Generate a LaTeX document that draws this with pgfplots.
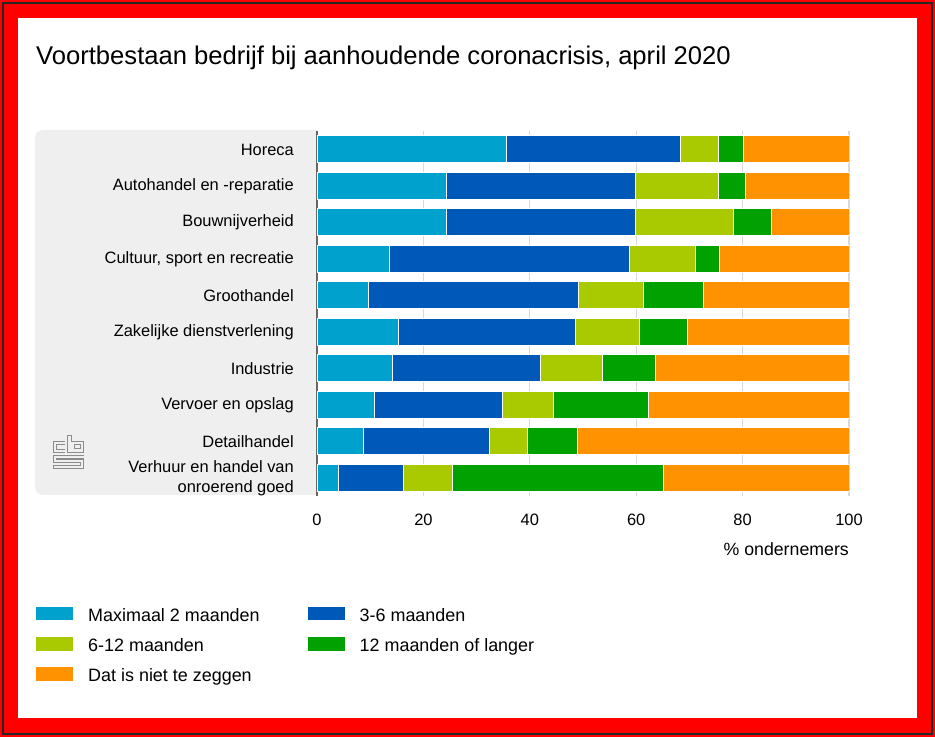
\documentclass[border=0pt]{standalone}
\usepackage{fontspec}
\setmainfont{Liberation Sans}
\setsansfont{Liberation Sans}
\usepackage{pgfplots}
\pgfplotsset{compat=1.18}

\definecolor{kort}{RGB}{0,161,205}
\definecolor{drieZes}{RGB}{0,88,184}
\definecolor{zesTwaalf}{RGB}{170,202,0}
\definecolor{lang}{RGB}{0,161,0}
\definecolor{onbekend}{RGB}{255,146,0}
\definecolor{paneel}{RGB}{239,239,239}

\begin{document}
\begin{tikzpicture}[x=1bp,y=1bp]
% frame
\fill[red] (0,0) rectangle (935,737);
\draw[black!85, line width=2bp] (3,3) rectangle (932,734);
\fill[white] (18,19) rectangle (917,719);
% grey panel behind the category names
\fill[paneel, rounded corners=8bp] (35,242) rectangle (330,607);
\fill[white] (317,230) rectangle (340,620);
\node[anchor=base west, inner sep=0pt, font=\fontsize{25.7}{30}\selectfont] at (36,672)
  {Voortbestaan bedrijf bij aanhoudende coronacrisis, april 2020};
% cbs logo
\begin{scope}[shift={(0,737)}, yscale=-1, draw=black!45, line width=0.9bp]
  \draw (65,441)--(53,441)--(53,452)--(65,452);
  \draw (65,444)--(56,444)--(56,449)--(65,449);
  \draw (67,435)--(67,452)--(83.5,452)--(83.5,441)--(71,441)--(71,435)--cycle;
  \draw (74.5,444.5) rectangle (80,448.5);
  \draw (83.5,455)--(53,455)--(53,462)--(80,462)--(80,465)--(53,465)--(53,468)--(83.5,468)--(83.5,459)--(56,459)--(56,458)--(83.5,458);
\end{scope}

\begin{axis}[
  at={(317bp,240.75bp)}, anchor=south west,
  scale only axis, width=532bp, height=365bp,
  xbar stacked, bar width=27bp,
  xmin=0, xmax=100, ymin=-0.5, ymax=9.5,
  y dir=reverse,
  xtick={0,20,...,100}, ytick={0,...,9},
  yticklabels={Horeca, Autohandel en -reparatie, Bouwnijverheid,
    {Cultuur, sport en recreatie}, Groothandel, Zakelijke dienstverlening,
    Industrie, Vervoer en opslag, Detailhandel,
    {Verhuur en handel van\\onroerend goed}},
  separate axis lines,
  axis x line*=bottom, axis y line*=left,
  x axis line style={draw=none},
  y axis line style={draw=black!60, line width=2.5bp, -},
  major tick length=0pt,
  xmajorgrids, grid style={black!15, line width=1.2bp},
  /pgf/number format/assume math mode=true,
  tick label style={font=\fontsize{16.5}{20.5}\selectfont},
  yticklabel style={anchor=east, align=right, inner sep=0pt, xshift=-23bp},
  xticklabel style={anchor=north, inner sep=0pt, yshift=-18bp},
  xlabel={\% ondernemers},
  xlabel style={at={(rel axis cs:1,0)}, anchor=base east, inner sep=0pt,
    yshift=-58.75bp, font=\fontsize{17.8}{21}\selectfont},
  every axis plot/.append style={draw=white, line width=1bp},
  legend columns=2,
  legend cell align=left,
  legend image code/.code={\fill[#1] (0bp,-4.5bp) rectangle (38bp,10bp);},
  legend style={at={(axis description cs:-0.530,-0.300)}, anchor=north west,
    draw=none, fill=none, inner sep=0pt, row sep=11.5bp,
    font=\fontsize{18}{21}\selectfont,
    nodes={inner sep=0pt, text height=13bp, text depth=3.5bp},
    /tikz/every odd column/.append style={column sep=14bp},
    /tikz/every even column/.append style={column sep=47bp}},
]
\addplot[fill=kort] coordinates {(35.7,0) (24.4,1) (24.4,2) (13.7,3) (9.7,4) (15.4,5) (14.2,6) (10.8,7) (8.8,8) (4.1,9)};
\addplot[fill=drieZes] coordinates {(32.7,0) (35.5,1) (35.5,2) (45.1,3) (39.4,4) (33.2,5) (27.8,6) (24.0,7) (23.7,8) (12.1,9)};
\addplot[fill=zesTwaalf] coordinates {(7.0,0) (15.5,1) (18.3,2) (12.4,3) (12.2,4) (12.1,5) (11.7,6) (9.6,7) (7.1,8) (9.3,9)};
\addplot[fill=lang] coordinates {(4.8,0) (5.1,1) (7.3,2) (4.5,3) (11.3,4) (9.0,5) (9.9,6) (18.0,7) (9.3,8) (39.7,9)};
\addplot[fill=onbekend] coordinates {(19.8,0) (19.5,1) (14.5,2) (24.3,3) (27.4,4) (30.3,5) (36.4,6) (37.6,7) (51.1,8) (34.8,9)};
\legend{Maximaal 2 maanden, 3-6 maanden, 6-12 maanden, 12 maanden of langer, Dat is niet te zeggen}
\end{axis}
\end{tikzpicture}
\end{document}
